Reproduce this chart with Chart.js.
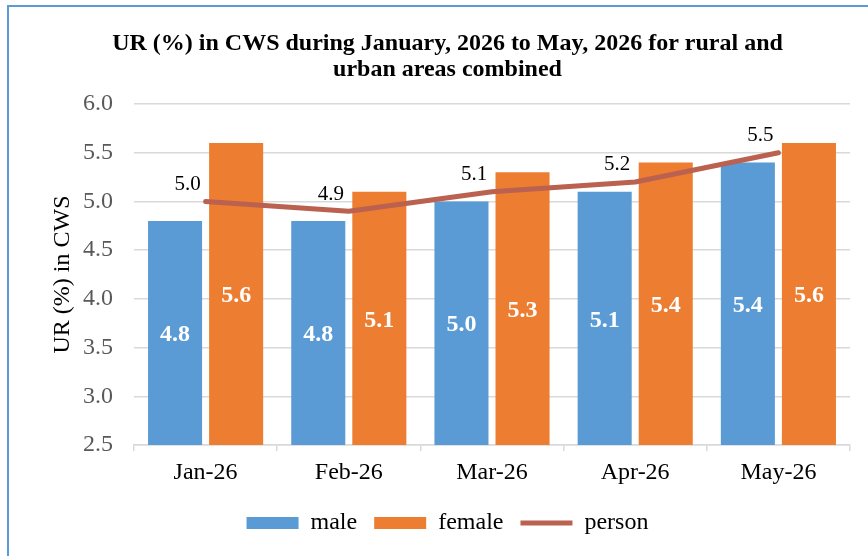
<!DOCTYPE html>
<html>
<head>
<meta charset="utf-8">
<script src="https://cdn.jsdelivr.net/npm/chart.js@4/dist/chart.umd.min.js"></script>
<style>
  html, body { margin: 0; padding: 0; background: #ffffff; }
  #wrap { position: relative; width: 868px; height: 556px; overflow: hidden; }
  #frame { position: absolute; left: 7px; top: 5px; width: 900px; height: 600px;
           border-top: 2px solid #5B9BD5; border-left: 2px solid #5B9BD5; pointer-events: none; }
</style>
</head>
<body>
<div id="wrap">
  <canvas id="c"></canvas>
  <div id="frame"></div>
</div>
<script>
const categories = ["Jan-26", "Feb-26", "Mar-26", "Apr-26", "May-26"];
const maleValues = [4.8, 4.8, 5.0, 5.1, 5.4];
const femaleValues = [5.6, 5.1, 5.3, 5.4, 5.6];
const personValues = [5.0, 4.9, 5.1, 5.2, 5.5];
const yTickValues = [2.5, 3.0, 3.5, 4.0, 4.5, 5.0, 5.5, 6.0];
const titleLines = ["UR (%) in CWS during January, 2026 to May, 2026 for rural and", "urban areas combined"];

const SERIF = "'Liberation Serif', 'Times New Roman', serif";

const labelPlugin = {
  id: 'valueLabels',
  afterDatasetsDraw(chart) {
    const ctx = chart.ctx;
    const area = chart.chartArea;
    ctx.save();
    chart.data.datasets.forEach((ds, di) => {
      const meta = chart.getDatasetMeta(di);
      if (meta.hidden) return;
      meta.data.forEach((el, i) => {
        const v = ds.data[i];
        const txt = v.toFixed(1);
        ctx.textAlign = 'center';
        ctx.textBaseline = 'middle';
        if (meta.type === 'bar') {
          const bottom = Math.min(el.base, area.bottom);
          ctx.font = "bold 24px " + SERIF;
          ctx.fillStyle = '#ffffff';
          ctx.fillText(txt, el.x, (el.y + bottom) / 2 + 2);
        } else {
          ctx.font = "21px " + SERIF;
          ctx.fillStyle = '#000000';
          ctx.fillText(txt, el.x - 18, el.y - 17);
        }
      });
    });
    ctx.restore();
  }
};

new Chart(document.getElementById('c'), {
  type: 'bar',
  data: {
    labels: categories,
    datasets: [
      { label: 'male', data: maleValues, backgroundColor: '#5B9BD5', borderWidth: 0,
        pointStyle: 'rect', categoryPercentage: 0.853, barPercentage: 0.885, order: 1 },
      { label: 'female', data: femaleValues, backgroundColor: '#ED7D31', borderWidth: 0,
        pointStyle: 'rect', categoryPercentage: 0.853, barPercentage: 0.885, order: 1 },
      { label: 'person', type: 'line', data: personValues, borderColor: '#BA6150',
        backgroundColor: '#BA6150', borderWidth: 5, pointRadius: 0, pointHoverRadius: 0,
        pointStyle: 'line', tension: 0, borderCapStyle: 'round', borderJoinStyle: 'round', order: 0 }
    ]
  },
  options: {
    responsive: true,
    maintainAspectRatio: false,
    animation: false,
    layout: { padding: { left: 45, right: 18, top: 0, bottom: 11 } },
    plugins: {
      tooltip: { enabled: false },
      title: {
        display: true,
        text: titleLines,
        color: '#000000',
        font: { family: SERIF, size: 24, weight: 'bold', lineHeight: 26 / 24 },
        padding: { top: 31, bottom: 21 }
      },
      legend: {
        position: 'bottom',
        labels: {
          usePointStyle: true,
          pointStyleWidth: 52,
          boxHeight: 12,
          padding: 17,
          color: '#000000',
          font: { family: SERIF, size: 24 },
          sort: (a, b) => a.datasetIndex - b.datasetIndex
        }
      }
    },
    scales: {
      x: {
        grid: { offset: true, drawOnChartArea: false, drawTicks: true, tickLength: 6, color: '#d9d9d9', lineWidth: 1.5 },
        border: { display: true, color: '#d9d9d9', width: 1.5 },
        ticks: { color: '#000000', font: { family: SERIF, size: 24 }, padding: 7 },
        afterFit(scale) { scale.height = 49; }
      },
      y: {
        min: 2.5,
        max: 6.0,
        afterBuildTicks(scale) { scale.ticks = yTickValues.map(v => ({ value: v })); },
        ticks: { color: '#595959', font: { family: SERIF, size: 24 }, padding: 21,
                 callback: (v) => Number(v).toFixed(1) },
        grid: { color: '#d9d9d9', lineWidth: 1.5, drawTicks: false },
        border: { display: false },
        title: { display: true, text: 'UR (%) in CWS', color: '#000000',
                 font: { family: SERIF, size: 24 }, padding: { top: 3, bottom: 0 } },
        afterFit(scale) { scale.width = 89; }
      }
    }
  },
  plugins: [labelPlugin]
});
</script>
</body>
</html>
